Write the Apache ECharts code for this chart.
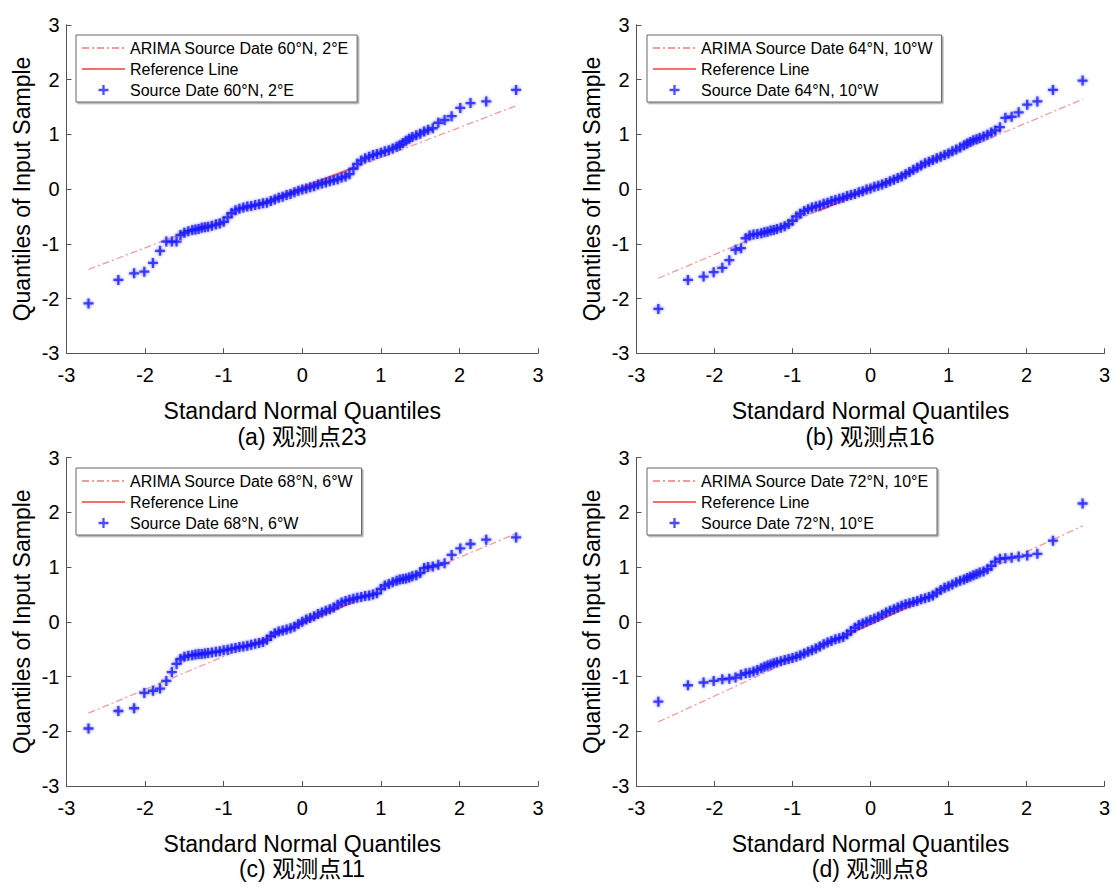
<!DOCTYPE html>
<html>
<head>
<meta charset="utf-8">
<script src="https://cdn.jsdelivr.net/npm/echarts@6/dist/echarts.min.js"></script>
<style>html,body{margin:0;padding:0;background:#fff}#chart{width:1113px;height:887px}</style>
</head>
<body>
<div id="chart"></div>
<script>
// Theoretical standard-normal quantiles (shared x positions of the sample points)
const quantiles = [
  -2.72, -2.34, -2.14, -2.01, -1.90, -1.81, -1.73, -1.66, -1.60, -1.55, -1.50, -1.45, -1.40, -1.36, -1.32, -1.28, -1.24, -1.20,
  -1.15, -1.10, -1.05, -1.00, -0.95, -0.90, -0.85, -0.80, -0.75, -0.70, -0.65, -0.60, -0.55, -0.50, -0.45, -0.40, -0.35, -0.30,
  -0.25, -0.20, -0.15, -0.10, -0.05, 0.00, 0.05, 0.10, 0.15, 0.20, 0.25, 0.30, 0.35, 0.40, 0.45, 0.50, 0.55, 0.60, 0.65, 0.70,
  0.75, 0.80, 0.85, 0.90, 0.95, 1.00, 1.05, 1.10, 1.15,
  1.20, 1.24, 1.28, 1.32, 1.36, 1.40, 1.45, 1.50, 1.55, 1.60, 1.66, 1.73, 1.81, 1.90, 2.01, 2.14, 2.34, 2.72
];
// Sample quantiles
const sampleA = [
  -2.09, -1.66, -1.54, -1.51, -1.35, -1.13, -0.96, -0.96, -0.96, -0.84, -0.80, -0.77, -0.75, -0.74, -0.73, -0.71, -0.70, -0.69,
  -0.67, -0.65, -0.63, -0.60, -0.52, -0.44, -0.39, -0.36, -0.34, -0.32, -0.31, -0.29, -0.28, -0.26, -0.25, -0.22, -0.19, -0.16,
  -0.14, -0.11, -0.09, -0.06, -0.03, -0.01, 0.01, 0.03, 0.05, 0.08, 0.10, 0.12, 0.14, 0.16, 0.18, 0.21, 0.23, 0.27, 0.37, 0.46,
  0.52, 0.56, 0.59, 0.62, 0.64, 0.66, 0.69, 0.71, 0.74,
  0.77, 0.80, 0.84, 0.88, 0.92, 0.95, 0.98, 1.01, 1.05, 1.08, 1.11, 1.21, 1.26, 1.33, 1.48, 1.57, 1.60, 1.81
];
const sampleB = [
  -2.19, -1.66, -1.60, -1.52, -1.44, -1.30, -1.11, -1.08, -0.90, -0.85, -0.83, -0.82, -0.81, -0.79, -0.78, -0.76, -0.75, -0.73,
  -0.71, -0.68, -0.64, -0.58, -0.50, -0.45, -0.40, -0.37, -0.34, -0.32, -0.30, -0.27, -0.25, -0.22, -0.20, -0.18, -0.16, -0.13,
  -0.11, -0.09, -0.06, -0.04, -0.01, 0.01, 0.04, 0.06, 0.08, 0.11, 0.14, 0.17, 0.20, 0.23, 0.27, 0.31, 0.35, 0.39, 0.43, 0.47,
  0.50, 0.53, 0.56, 0.59, 0.62, 0.65, 0.69, 0.72, 0.76,
  0.80, 0.83, 0.86, 0.89, 0.91, 0.93, 0.96, 0.99, 1.03, 1.07, 1.13, 1.30, 1.32, 1.40, 1.54, 1.60, 1.81, 1.98
];
const sampleC = [
  -1.95, -1.63, -1.58, -1.30, -1.26, -1.22, -1.08, -0.92, -0.77, -0.68, -0.64, -0.62, -0.61, -0.60, -0.59, -0.59, -0.58, -0.57,
  -0.56, -0.55, -0.54, -0.52, -0.51, -0.49, -0.48, -0.46, -0.45, -0.44, -0.42, -0.40, -0.39, -0.37, -0.33, -0.26, -0.21, -0.18,
  -0.16, -0.14, -0.12, -0.09, -0.04, 0.00, 0.04, 0.07, 0.10, 0.14, 0.17, 0.20, 0.23, 0.26, 0.31, 0.35, 0.38, 0.40, 0.42, 0.44,
  0.45, 0.47, 0.48, 0.50, 0.52, 0.60, 0.66, 0.69, 0.72,
  0.75, 0.77, 0.78, 0.79, 0.81, 0.83, 0.85, 0.89, 0.98, 1.00, 1.01, 1.04, 1.07, 1.22, 1.34, 1.42, 1.50, 1.54
];
const sampleD = [
  -1.46, -1.16, -1.11, -1.08, -1.05, -1.04, -1.02, -0.97, -0.94, -0.93, -0.91, -0.88, -0.85, -0.82, -0.80, -0.78, -0.76, -0.74,
  -0.72, -0.70, -0.68, -0.66, -0.64, -0.61, -0.58, -0.55, -0.52, -0.49, -0.45, -0.41, -0.38, -0.35, -0.32, -0.30, -0.28, -0.23,
  -0.17, -0.11, -0.06, -0.03, 0.00, 0.03, 0.06, 0.09, 0.13, 0.17, 0.20, 0.23, 0.26, 0.29, 0.32, 0.34, 0.36, 0.38, 0.41, 0.43,
  0.45, 0.48, 0.53, 0.58, 0.62, 0.65, 0.68, 0.72, 0.75,
  0.77, 0.80, 0.82, 0.85, 0.87, 0.90, 0.92, 0.96, 1.02, 1.10, 1.15, 1.16, 1.17, 1.19, 1.21, 1.24, 1.48, 2.16
];
// Fitted (ARIMA) line end values at the first / last quantile
const arimaA = [-1.47, 1.52];
const arimaB = [-1.63, 1.64];
const arimaC = [-1.67, 1.61];
const arimaD = [-1.83, 1.75];
// Reference line between first and third quartile
const quartileX = [-0.674, 0.674];
const refA = [-0.35, 0.40];
const refB = [-0.40, 0.41];
const refC = [-0.44, 0.38];
const refD = [-0.48, 0.40];
const stations = ['60°N, 2°E', '64°N, 10°W', '68°N, 6°W', '72°N, 10°E'];
const captions = ['(a) 观测点23', '(b) 观测点16', '(c) 观测点11', '(d) 观测点8'];
const axisRange = [-3, 3];
const xTitle = 'Standard Normal Quantiles';
const yTitle = 'Quantiles of Input Sample';

const samples = [sampleA, sampleB, sampleC, sampleD];
const arimas = [arimaA, arimaB, arimaC, arimaD];
const refs = [refA, refB, refC, refD];

const FONT = '"Liberation Sans", Arial, "Noto Sans CJK SC", sans-serif';
const PLUS = 'path://M3.85,0H6.15V3.85H10V6.15H6.15V10H3.85V6.15H0V3.85H3.85Z';
const grids = [
  {left: 66.5, top: 24.75, width: 471.6, height: 328.5},
  {left: 636.5, top: 24.75, width: 471.6, height: 328.5},
  {left: 66.5, top: 457.5, width: 471.6, height: 328.5},
  {left: 636.5, top: 457.5, width: 471.6, height: 328.5}
];
const legendPos = [[76, 35], [647, 35], [76, 468], [647, 468]];
const captionPos = [[302, 437], [870, 437], [302, 869], [870, 869]];

const axisCommon = {
  type: 'value', min: axisRange[0], max: axisRange[1], interval: 1,
  nameLocation: 'middle',
  nameTextStyle: {fontSize: 23, color: '#000', fontFamily: FONT},
  axisLine: {show: true, onZero: false, lineStyle: {color: '#555', width: 1}},
  axisTick: {show: true, inside: true, length: 5, lineStyle: {color: '#555'}},
  axisLabel: {fontSize: 20, color: '#000', fontFamily: FONT},
  splitLine: {show: false}
};

const xAxes = grids.map((g, i) => Object.assign({}, axisCommon, {
  gridIndex: i, name: xTitle, nameGap: 46,
  axisLabel: Object.assign({}, axisCommon.axisLabel, {margin: 12})
}));
const yAxes = grids.map((g, i) => Object.assign({}, axisCommon, {
  gridIndex: i, name: yTitle, nameGap: 33,
  axisLabel: Object.assign({}, axisCommon.axisLabel, {margin: 7})
}));

const series = [];
const legends = [];
stations.forEach((st, i) => {
  const n = quantiles.length;
  series.push({
    type: 'line', name: 'ARIMA Source Date ' + st, xAxisIndex: i, yAxisIndex: i,
    data: [[quantiles[0], arimas[i][0]], [quantiles[n - 1], arimas[i][1]]],
    symbol: 'none', silent: true, z: 2,
    itemStyle: {color: '#f59a9a'},
    lineStyle: {color: '#f59a9a', width: 1.3, type: [7, 3, 2, 3]}
  });
  series.push({
    type: 'line', name: 'Reference Line', xAxisIndex: i, yAxisIndex: i,
    data: [[quartileX[0], refs[i][0]], [quartileX[1], refs[i][1]]],
    symbol: 'none', silent: true, z: 2,
    itemStyle: {color: '#ff6a6a'},
    lineStyle: {color: '#ff6a6a', width: 2.4}
  });
  series.push({
    type: 'scatter', name: 'Source Date ' + st, xAxisIndex: i, yAxisIndex: i,
    data: quantiles.map((q, k) => [q, samples[i][k]]),
    symbol: PLUS, symbolSize: 10, silent: true, z: 3,
    itemStyle: {color: '#1a1aff', opacity: 0.78, shadowBlur: 3, shadowColor: 'rgba(30,30,255,0.7)'}
  });
  legends.push({
    left: legendPos[i][0], top: legendPos[i][1], orient: 'vertical',
    itemWidth: 43, itemHeight: 10, itemGap: 5, padding: [5, 8, 4, 5],
    borderColor: '#666', borderWidth: 1, backgroundColor: '#fff',
    shadowColor: 'rgba(0,0,0,0.35)', shadowBlur: 0, shadowOffsetX: 1.5, shadowOffsetY: 1.5,
    selectedMode: false,
    textStyle: {fontSize: 16, color: '#000', fontFamily: FONT},
    data: [
      {name: 'ARIMA Source Date ' + st, itemStyle: {opacity: 0}},
      {name: 'Reference Line', itemStyle: {opacity: 0}},
      {name: 'Source Date ' + st, itemStyle: {shadowBlur: 0}}
    ]
  });
});

const chart = echarts.init(document.getElementById('chart'), null, {renderer: 'svg'});
chart.setOption({
  backgroundColor: '#fff',
  animation: false,
  grid: grids,
  xAxis: xAxes,
  yAxis: yAxes,
  legend: legends,
  series: series,
  graphic: captions.map((c, i) => ({
    type: 'text', x: captionPos[i][0], y: captionPos[i][1], silent: true,
    style: {text: c, fontSize: 23, fontFamily: FONT, fill: '#000', align: 'center', verticalAlign: 'middle'}
  }))
});
</script>
</body>
</html>
